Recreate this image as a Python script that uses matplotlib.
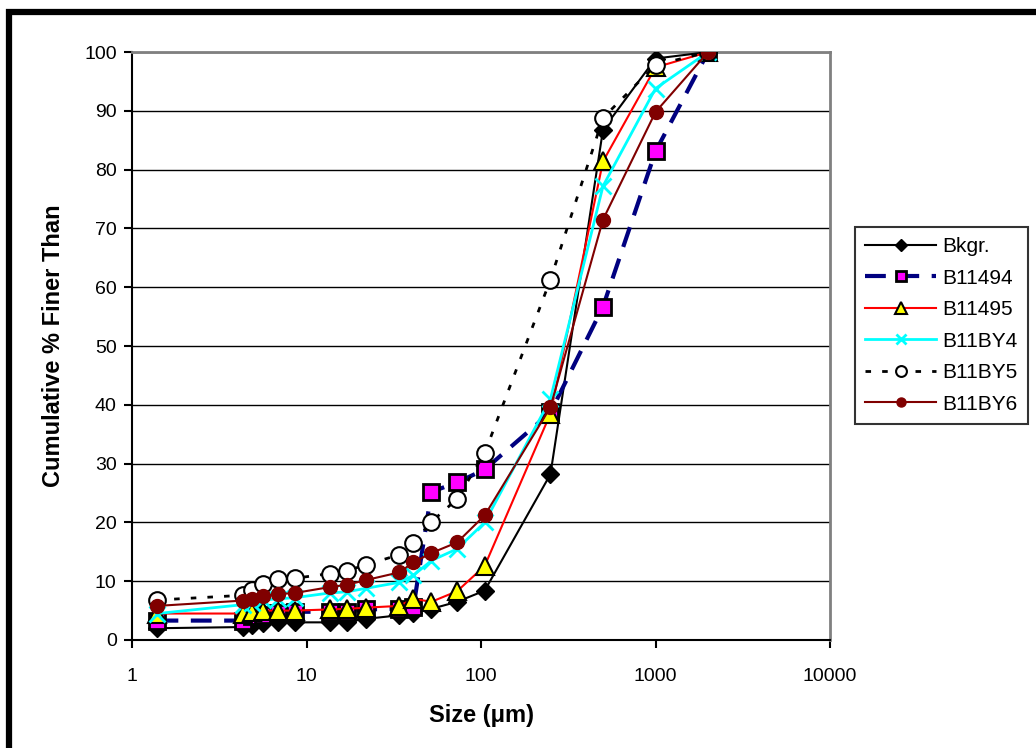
import matplotlib
matplotlib.use("Agg")
from matplotlib import pyplot as plt
from matplotlib.patches import Rectangle

plt.rcParams['font.family'] = ['Liberation Sans', 'DejaVu Sans']

# sieve / hydrometer sizes (um)
size = [1.4, 4.3, 4.9, 5.6, 6.9, 8.6, 13.6, 17.1, 22, 34, 41, 52, 73, 105, 250, 500, 1000, 2000]

bkgr   = [2.0, 2.2, 2.6, 2.9, 3.0, 3.0, 3.0, 3.1, 3.6, 4.2, 4.6, 5.3, 6.5, 8.4, 28.2, 86.8, 98.9, 100]
b11494 = [3.3, 3.3, 4.0, 4.3, 4.6, 4.8, 4.8, 4.8, 5.2, 5.3, 5.6, 25.2, 26.8, 29.0, 38.7, 56.7, 83.1, 100]
b11495 = [4.5, 4.5, 4.8, 5.0, 5.0, 5.0, 5.2, 5.3, 5.5, 5.8, 7.0, 6.5, 8.3, 12.6, 38.5, 81.4, 97.4, 100]
b11by4 = [4.5, 6.0, 6.3, 6.8, 7.0, 7.2, 8.0, 8.2, 8.8, 9.8, 11.0, 13.5, 15.5, 20.0, 41.0, 77.2, 93.8, 100]
b11by5 = [6.8, 7.6, 8.5, 9.6, 10.3, 10.5, 11.3, 11.8, 12.8, 14.5, 16.5, 20.1, 24.0, 31.8, 61.3, 88.8, 97.8, 100]
b11by6 = [5.8, 6.7, 7.0, 7.5, 7.8, 8.0, 9.0, 9.4, 10.2, 11.5, 13.2, 14.8, 16.6, 21.2, 39.6, 71.5, 89.8, 100]

names = ["Bkgr.", "B11494", "B11495", "B11BY4", "B11BY5", "B11BY6"]

fig = plt.figure(figsize=(10.36, 7.48), dpi=100)
ax = fig.add_axes([0.1274, 0.1444, 0.6738, 0.786])

ax.plot(size, bkgr, color="black", lw=1.5, marker="D", ms=9, mfc="black", mec="black", label=names[0], zorder=3)
ax.plot(size, b11494, color="#000080", lw=3, ls=(0, (5, 3)), marker="s", ms=11, mfc="#ff00ff",
        mec="black", mew=2, label=names[1], zorder=3)
ax.plot(size, b11495, color="red", lw=1.5, marker="^", ms=13, mfc="yellow", mec="black",
        mew=1.5, label=names[2], zorder=3)
ax.plot(size, b11by4, color="cyan", lw=2, marker="x", ms=11, mew=2, mec="cyan", label=names[3], zorder=3)
ax.plot(size, b11by5, color="black", lw=2, ls=(0, (2, 4)), marker="o", ms=12, mfc="white",
        mec="black", mew=1.5, label=names[4], zorder=3)
ax.plot(size, b11by6, color="#800000", lw=1.5, marker="o", ms=10, mfc="#800000", mec="#800000",
        label=names[5], zorder=3)

ax.set_xscale("log")
ax.set_xlim(1, 10000)
ax.set_ylim(0, 100)
ax.set_yticks(range(0, 101, 10))
ax.set_xticks([1, 10, 100, 1000, 10000])
ax.set_xticklabels(["1", "10", "100", "1000", "10000"])
ax.minorticks_off()
ax.yaxis.grid(True, color="black", lw=1)
ax.set_axisbelow(True)

for s in ["top", "right"]:
    ax.spines[s].set_color("#808080")
    ax.spines[s].set_linewidth(2)
for s in ["left", "bottom"]:
    ax.spines[s].set_color("black")
    ax.spines[s].set_linewidth(1.5)

ax.tick_params(axis="both", direction="out", length=6, width=1.5, labelsize=14)
ax.tick_params(axis="x", pad=14)
ax.tick_params(axis="y", pad=5)
ax.set_xlabel("Size (\u03bcm)", fontsize=17, fontweight="bold", labelpad=14)
ax.set_ylabel("Cumulative % Finer Than", fontsize=17, fontweight="bold", labelpad=14)

leg = fig.legend(loc="upper left", bbox_to_anchor=(0.825, 0.697), fontsize=15,
                 frameon=True, fancybox=False, edgecolor="black", handlelength=3.4,
                 borderpad=0.5, labelspacing=0.6, handletextpad=0.3, borderaxespad=0,
                 markerscale=0.65)
leg.get_frame().set_linewidth(1.5)

# outer chart-area border
fig.patches.append(Rectangle((9 / 1036, -0.1), 1.2, 1.1 - 12.5 / 748, fill=False, lw=4.5,
                             edgecolor="black", transform=fig.transFigure))

fig.savefig("out.png", dpi=100)
